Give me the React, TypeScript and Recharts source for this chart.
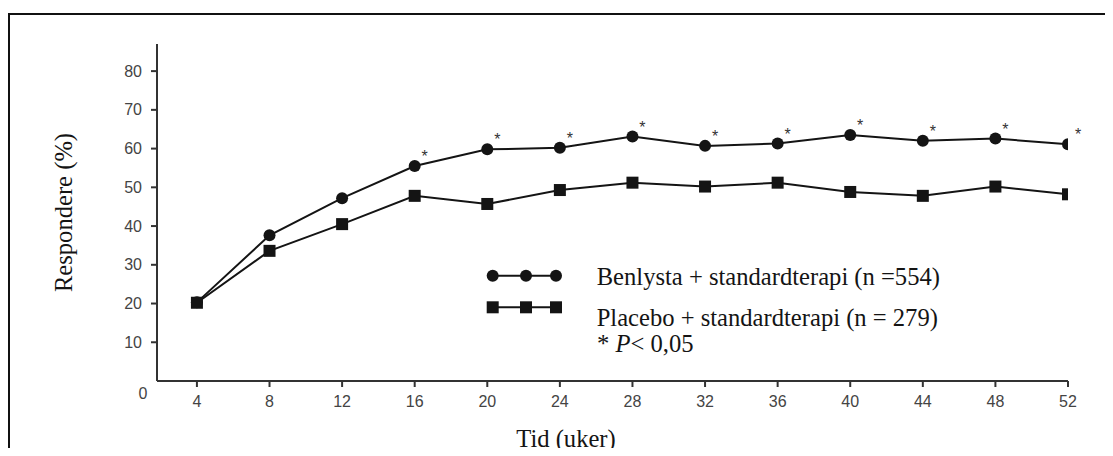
import React from "react";
import { LineChart, Line, XAxis, YAxis, Legend, LabelList } from "recharts";

const weeks = [4, 8, 12, 16, 20, 24, 28, 32, 36, 40, 44, 48, 52];
const benlysta = [20.3, 37.6, 47.2, 55.5, 59.8, 60.2, 63.1, 60.7, 61.3, 63.5, 62.0, 62.6, 61.1];
const placebo = [20.2, 33.6, 40.5, 47.8, 45.7, 49.3, 51.2, 50.2, 51.2, 48.8, 47.8, 50.2, 48.2];
const significant = [false, false, false, true, true, true, true, true, true, true, true, true, true];

const yTicks = [0, 10, 20, 30, 40, 50, 60, 70, 80];
const xTicks = weeks;

const benlystaLabel = "Benlysta + standardterapi (n =554)";
const placeboLabel = "Placebo + standardterapi (n = 279)";
const xTitle = "Tid (uker)";
const yTitle = "Respondere (%)";

const SERIF = "'Liberation Serif', 'Times New Roman', serif";
const SANS = "'Liberation Sans', Arial, sans-serif";
const INK = "#141414";
const AXIS = "#333";

const data = weeks.map((w, i) => ({
  week: w,
  benlysta: benlysta[i],
  placebo: placebo[i],
  star: significant[i] ? "*" : "",
}));

const YTick = (props: any) => {
  const { x, y, payload } = props;
  if (payload.value === 0) {
    // the origin label sits below the corner, without a tick mark
    return (
      <text x={x - 14} y={y + 12} textAnchor="middle" dominantBaseline="central" fontSize={16} fontFamily={SANS} fill="#444">
        0
      </text>
    );
  }
  return (
    <g>
      <line x1={x - 6} x2={x} y1={y} y2={y} stroke={AXIS} strokeWidth={2} />
      <text x={x - 15} y={y} textAnchor="end" dominantBaseline="central" fontSize={16} fontFamily={SANS} fill="#444">
        {payload.value}
      </text>
    </g>
  );
};

const SquareDot = (props: any) => {
  const { cx, cy, index } = props;
  if (cx == null || cy == null) return null;
  return <rect key={`sq-${index}`} x={cx - 6} y={cy - 6} width={12} height={12} fill={INK} />;
};

const Star = (props: any) => {
  const { x, y, value } = props;
  if (!value) return null;
  return (
    <text x={Number(x) + 10} y={Number(y) - 4} textAnchor="middle" fontSize={16} fontFamily={SANS} fill="#333">
      {value}
    </text>
  );
};

const LegendBox = () => {
  const mx = [12.7, 46, 76];
  return (
    <svg width={520} height={100} style={{ display: "block", overflow: "visible" }}>
      <line x1={mx[0]} x2={mx[2]} y1={15.7} y2={15.7} stroke={INK} strokeWidth={2} />
      {mx.map((x) => (
        <circle key={`c${x}`} cx={x} cy={15.7} r={6} fill={INK} />
      ))}
      <line x1={mx[0]} x2={mx[2]} y1={47.3} y2={47.3} stroke={INK} strokeWidth={2} />
      {mx.map((x) => (
        <rect key={`s${x}`} x={x - 6} y={41.3} width={12} height={12} fill={INK} />
      ))}
      <text x={116.7} y={25} fontSize={24.6} fontFamily={SERIF} fill={INK}>
        {benlystaLabel}
      </text>
      <text x={116.7} y={66} fontSize={24.6} fontFamily={SERIF} fill={INK}>
        {placeboLabel}
      </text>
      <text x={117} y={92} fontSize={24.6} fontFamily={SERIF} fill={INK}>
        {"* "}
        <tspan fontStyle="italic">P</tspan>
        {"< 0,05"}
      </text>
    </svg>
  );
};

export default function App() {
  return (
    <div style={{ position: "relative", width: 1105, height: 448, marginBottom: -8, overflow: "hidden" }}>
      <div
        style={{
          position: "absolute",
          left: 0,
          top: 5,
          width: 1200,
          height: 500,
          borderTop: "2px solid #111",
          borderLeft: "2px solid #111",
        }}
      />
      <div style={{ position: "absolute", left: 0, top: 0 }}>
        <LineChart width={1100} height={448} data={data} margin={{ top: 36, right: 40, left: 89, bottom: 45 }}>
          <XAxis
            dataKey="week"
            type="number"
            domain={[1.8, 52]}
            ticks={xTicks}
            allowDataOverflow
            axisLine={{ stroke: AXIS, strokeWidth: 2 }}
            tickLine={{ stroke: AXIS, strokeWidth: 2 }}
            tickSize={6}
            tickMargin={9}
            height={30}
            tick={{ fontSize: 16, fontFamily: SANS, fill: "#444" }}
            label={{
              content: (p: any) => (
                <text
                  x={p.viewBox.x + 409}
                  y={p.viewBox.y + 66}
                  textAnchor="middle"
                  fontSize={24.6}
                  fontFamily={SERIF}
                  fill={INK}
                >
                  {xTitle}
                </text>
              ),
            }}
          />
          <YAxis
            type="number"
            domain={[0, 87]}
            ticks={yTicks}
            allowDataOverflow
            width={60}
            axisLine={{ stroke: AXIS, strokeWidth: 2 }}
            tickLine={false}
            tickSize={0}
            tickMargin={0}
            tick={<YTick />}
            label={{
              content: (p: any) => {
                const cx = p.viewBox.x - 25;
                const cy = p.viewBox.y + p.viewBox.height / 2;
                return (
                  <text
                    x={cx}
                    y={cy}
                    textAnchor="middle"
                    fontSize={24.6}
                    fontFamily={SERIF}
                    fill={INK}
                    transform={`rotate(-90, ${cx}, ${cy})`}
                  >
                    {yTitle}
                  </text>
                );
              },
            }}
          />
          <Legend
            layout="horizontal"
            verticalAlign="middle"
            align="center"
            content={<LegendBox />}
            wrapperStyle={{ position: "absolute", left: 472, top: 252, width: 520, height: 100 }}
          />
          <Line
            type="linear"
            dataKey="benlysta"
            stroke={INK}
            strokeWidth={2}
            dot={{ r: 6, fill: INK, stroke: "none" }}
            activeDot={false}
            isAnimationActive={false}
          >
            <LabelList dataKey="star" content={<Star />} />
          </Line>
          <Line
            type="linear"
            dataKey="placebo"
            stroke={INK}
            strokeWidth={2}
            dot={<SquareDot />}
            activeDot={false}
            isAnimationActive={false}
          />
        </LineChart>
      </div>
    </div>
  );
}
